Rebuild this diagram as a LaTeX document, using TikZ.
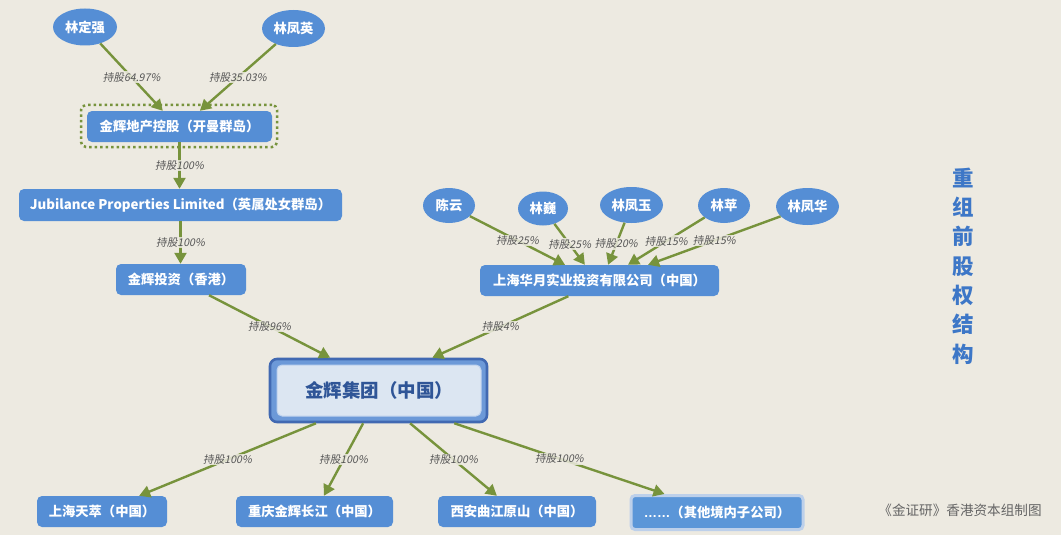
\documentclass[tikz,border=0pt]{standalone}
\usepackage{fontspec}
\setmainfont{Noto Sans CJK SC}
\newfontfamily\cjk{Noto Sans CJK SC}
\newfontfamily\cjkit[FakeSlant=0.2]{Noto Sans CJK SC}
\newfontfamily\latdots{Liberation Sans}
\usetikzlibrary{arrows.meta,calc,shapes.geometric}
\definecolor{bgc}{RGB}{237,234,225}
\definecolor{boxc}{RGB}{85,142,213}
\definecolor{otherfill}{RGB}{91,150,216}
\definecolor{arrc}{RGB}{119,147,60}
\definecolor{lblc}{RGB}{85,85,85}
\definecolor{ctrtext}{RGB}{47,85,151}
\definecolor{ctrfill}{RGB}{220,230,242}
\definecolor{ctrdark}{RGB}{65,105,178}
\definecolor{ctrmid}{RGB}{108,153,216}
\definecolor{ctrin}{RGB}{190,210,238}
\definecolor{titlec}{RGB}{61,119,199}
\definecolor{capc}{RGB}{100,100,100}
\definecolor{otherc}{RGB}{189,208,234}
\tikzset{
  box/.style={rectangle, rounded corners=5pt, fill=boxc, text=white,
    font=\cjk\bfseries\fontsize{13.3}{15}\selectfont, minimum height=31pt, inner sep=0pt},
  person/.style={ellipse, fill=boxc, text=white,
    font=\cjk\bfseries\fontsize{13.3}{15}\selectfont, inner sep=0pt},
  arr/.style={draw=arrc, line width=2.4pt, -{Triangle[length=11pt,width=12pt]}},
  lbl/.style={font=\cjkit\fontsize{10.6}{12}\selectfont, text=lblc, fill=bgc,
    fill opacity=0.85, text opacity=1, inner sep=1pt}
}
\begin{document}
\begin{tikzpicture}[x=1pt,y=-1pt]
\fill[bgc] (0,0) rectangle (1061,535);
\useasboundingbox (0,0) rectangle (1061,535);

% top owners
\node[person, minimum width=64pt, minimum height=37pt] (lda) at (85,27) {林定强};
\node[person, minimum width=63pt, minimum height=37pt] (lfy) at (293.5,28.5) {林凤英};
\node[draw=arrc, line width=2.5pt, dash pattern=on 2.5pt off 3pt, rounded corners=5pt,
  minimum width=196pt, minimum height=42pt] (frame) at (179,126) {};
\node[box, minimum width=185pt] (dc) at (179.5,126.5) {金辉地产控股（开曼群岛）};
\node[box, minimum width=323pt, minimum height=32pt] (jub) at (180.5,205) {Jubilance Properties Limited（英属处女群岛）};
\node[box, minimum width=130pt] (hk) at (181,279.5) {金辉投资（香港）};

% right owners
\node[person, minimum width=52pt, minimum height=35pt] (cy) at (449,205.5) {陈云};
\node[person, minimum width=50pt, minimum height=34pt] (lw) at (543,208.5) {林巍};
\node[person, minimum width=63pt, minimum height=36pt] (lfyu) at (631.5,205) {林凤玉};
\node[person, minimum width=52pt, minimum height=35pt] (lp) at (724,205.5) {林苹};
\node[person, minimum width=63pt, minimum height=37pt] (lfh) at (807.5,206.5) {林凤华};
\node[box, minimum width=239pt] (hy) at (599.5,280.5) {上海华月实业投资有限公司（中国）};

% center
\node[rectangle, rounded corners=7pt, fill=ctrmid, draw=ctrdark, line width=2.6pt,
  minimum width=217pt, minimum height=63pt] (jh) at (378.5,390.5) {};
\node[rectangle, rounded corners=5pt, fill=ctrfill, draw=ctrin, line width=1pt,
  minimum width=204pt, minimum height=51pt, text=ctrtext,
  font=\cjk\bfseries\fontsize{18.5}{21}\selectfont] (jht) at (379,390.5) {金辉集团（中国）};

% subsidiaries
\node[box, minimum width=130pt] (sh) at (102,511.5) {上海天萃（中国）};
\node[box, minimum width=157pt] (cq) at (314.5,511.5) {重庆金辉长江（中国）};
\node[box, minimum width=158pt] (xa) at (517,511.5) {西安曲江原山（中国）};
\node[box, fill=otherfill, draw=otherc, line width=3pt, rounded corners=4pt,
  minimum width=172pt, minimum height=34pt] (ot) at (717,512.5) {{\latdots\bfseries ……}（其他境内子公司）};

% title and caption
\node[font=\cjk\bfseries\fontsize{21.5}{29.3}\selectfont, text=titlec, align=center,
  inner sep=0pt] (title) at (963.5,266) {重\\组\\前\\股\\权\\结\\构};
\node[font=\cjk\fontsize{13.6}{16}\selectfont, text=capc, inner sep=0pt] (cap) at (960,510) {《金证研》香港资本组制图};

% connectors
\draw[arr] (lda) -- ($(dc.north west)!0.41!(dc.north east)$) node[lbl,midway] {持股64.97\%};
\draw[arr] (lfy) -- ($(dc.north west)!0.61!(dc.north east)$) node[lbl,midway] {持股35.03\%};
\draw[arr] (dc.south) -- (dc.south |- jub.north) node[lbl,midway] {持股100\%};
\draw[arr] (jub.south) -- (jub.south |- hk.north) node[lbl,midway] {持股100\%};
\draw[arr] ($(hk.south west)!0.715!(hk.south east)$) -- ($(jh.north west)!0.28!(jh.north east)$) node[lbl,midway] {持股96\%};
\draw[arr] ($(hy.south west)!0.37!(hy.south east)$) -- ($(jh.north west)!0.745!(jh.north east)$) node[lbl,midway] {持股4\%};

\draw[arr] (cy) -- ($(hy.north west)!0.356!(hy.north east)$) node[lbl,midway] {持股25\%};
\draw[arr] (lw) -- ($(hy.north west)!0.439!(hy.north east)$) node[lbl,midway] {持股25\%};
\draw[arr] (lfyu) -- ($(hy.north west)!0.536!(hy.north east)$) node[lbl,midway] {持股20\%};
\draw[arr] (lp) -- ($(hy.north west)!0.619!(hy.north east)$) node[lbl,midway] {持股15\%};
\draw[arr] (lfh) -- ($(hy.north west)!0.703!(hy.north east)$) node[lbl,midway] {持股15\%};

\draw[arr] ($(jh.south west)!0.215!(jh.south east)$) -- ($(sh.north west)!0.785!(sh.north east)$) node[lbl,midway] {持股100\%};
\draw[arr] ($(jh.south west)!0.43!(jh.south east)$) -- ($(cq.north west)!0.56!(cq.north east)$) node[lbl,midway] {持股100\%};
\draw[arr] ($(jh.south west)!0.644!(jh.south east)$) -- ($(xa.north west)!0.373!(xa.north east)$) node[lbl,midway] {持股100\%};
\draw[arr] ($(jh.south west)!0.845!(jh.south east)$) -- ($(ot.north west)!0.2!(ot.north east)$) node[lbl,midway] {持股100\%};
\end{tikzpicture}
\end{document}
